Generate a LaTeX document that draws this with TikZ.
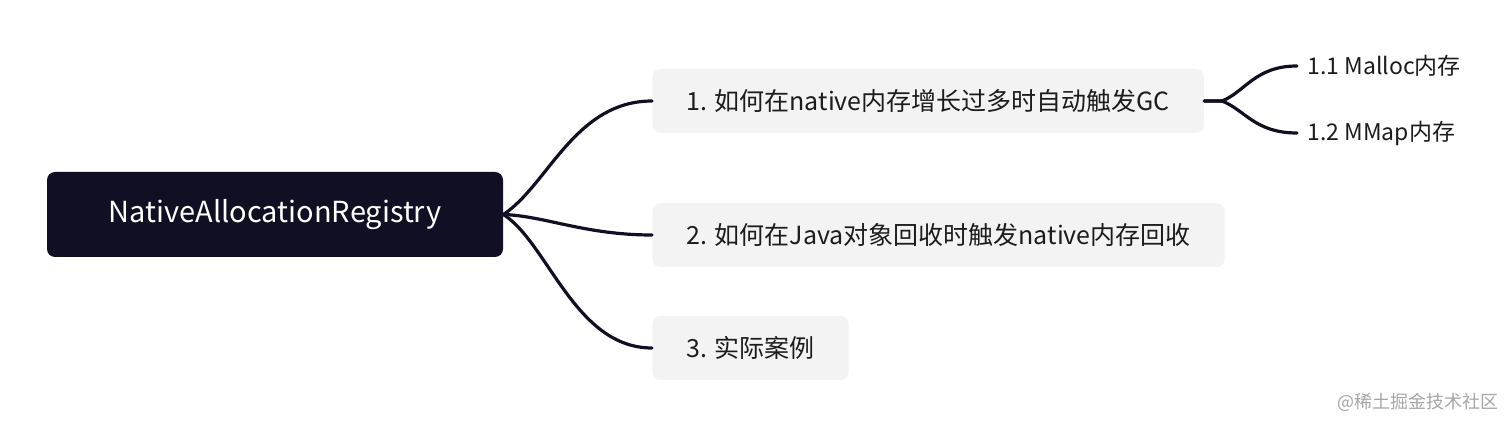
\documentclass[tikz,border=0pt]{standalone}
\usepackage{fontspec}
\setmainfont{Noto Sans CJK SC}
\usetikzlibrary{positioning}

\definecolor{navy}{HTML}{110F24}
\definecolor{topicgray}{HTML}{F3F3F3}
\definecolor{inkgray}{HTML}{1C1C1C}

\begin{document}
\begin{tikzpicture}[
        x=0.5pt, y=-0.5pt,
        rootbox/.style={rectangle, fill=navy, rounded corners=4pt, text=white, minimum width=228pt, minimum height=42.5pt, font=\fontsize{14.5}{17}\selectfont},
        topic/.style={rectangle, fill=topicgray, rounded corners=4pt, text=inkgray, inner xsep=17pt, minimum height=32pt, anchor=west, font=\fontsize{12.5}{15}\selectfont},
        subtopic/.style={inner xsep=5pt, anchor=west, text=inkgray, font=\fontsize{11.5}{13}\selectfont},
        branch/.style={draw=navy, line width=1.6pt, line cap=round}
    ]
        \useasboundingbox (0,0) rectangle (1512,427);

        \node[rootbox] (root) at (275,214.5) {NativeAllocationRegistry};
        \node[topic] (gc) at (652,101) {1. 如何在native内存增长过多时自动触发GC};
        \node[topic] (java) at (652,235) {2. 如何在Java对象回收时触发native内存回收};
        \node[topic] (case) at (652,348) {3. 实际案例};
        \node[subtopic] (malloc) at (1297,66) {1.1 Malloc内存};
        \node[subtopic] (mmap) at (1297,133) {1.2 MMap内存};
        \node[text=gray!70, font=\fontsize{9}{11}\selectfont] (mark) at (1418,402) {@稀土掘金技术社区};

        \coordinate (fork) at (1222,101);

        \draw[branch] (root.east) .. controls (548,185) and (575,101) .. (gc.west);
        \draw[branch] (root.east) .. controls (545,216) and (585,235) .. (java.west);
        \draw[branch] (root.east) .. controls (548,243) and (575,348) .. (case.west);
        \draw[branch] (gc.east) -- (fork) .. controls (1245,92) and (1255,66) .. (malloc.west);
        \draw[branch] (gc.east) -- (fork) .. controls (1245,110) and (1255,133) .. (mmap.west);
    \end{tikzpicture}
\end{document}
